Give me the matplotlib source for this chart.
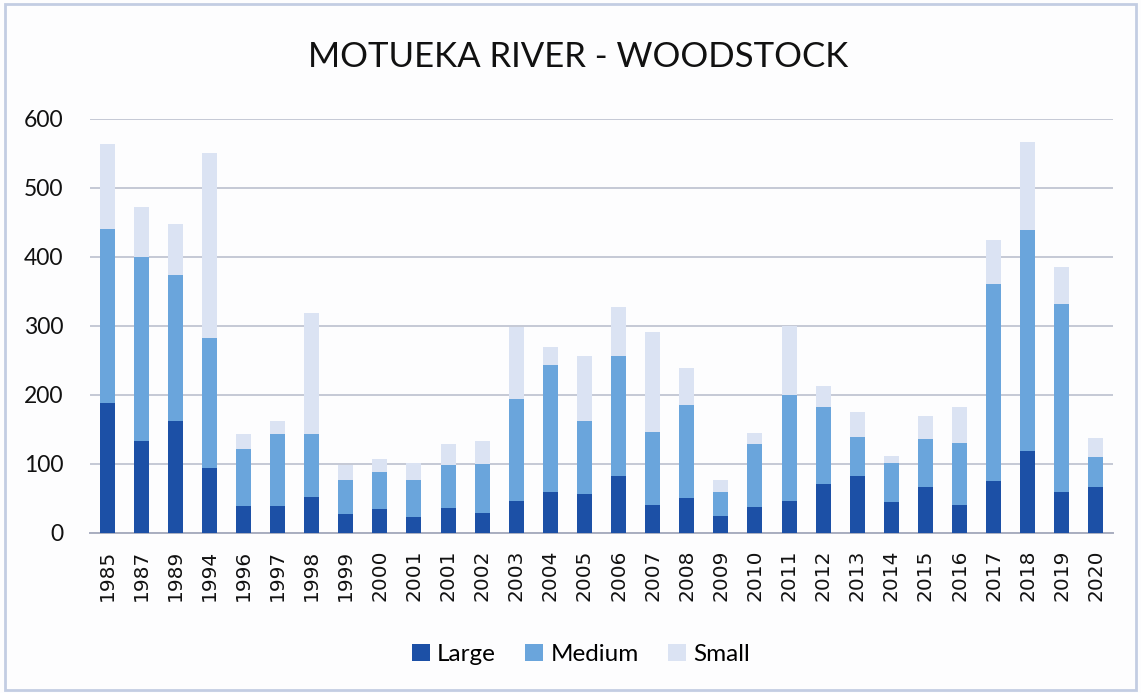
import matplotlib
matplotlib.use("Agg")
import matplotlib.pyplot as plt
import matplotlib.patches as patches
import numpy as np

# --- DONNEES ---
annees = ["1985", "1987", "1989", "1994", "1996", "1997", "1998", "1999", "2000",
          "2001", "2001", "2002", "2003", "2004", "2005", "2006", "2007", "2008",
          "2009", "2010", "2011", "2012", "2013", "2014", "2015", "2016", "2017",
          "2018", "2019", "2020"]
large = [188, 134, 163, 94, 39, 39, 52, 27, 35,
         23, 36, 29, 46, 59, 56, 83, 41, 50,
         24, 38, 47, 71, 83, 45, 66, 41, 76,
         119, 59, 67]
medium = [253, 266, 211, 188, 83, 104, 91, 50, 53,
          54, 63, 71, 148, 184, 107, 173, 105, 135,
          36, 91, 153, 111, 56, 57, 70, 89, 285,
          320, 273, 43]
small = [123, 72, 74, 268, 22, 20, 176, 22, 19,
         24, 30, 34, 104, 27, 94, 71, 145, 54,
         17, 16, 100, 31, 36, 10, 33, 52, 64,
         128, 54, 28]

couleurs = {"Large": "#1c50a6", "Medium": "#6aa5dc", "Small": "#dbe3f3"}

fig = plt.figure(figsize=(11.41, 6.93), dpi=100)
fig.patch.set_facecolor("#fdfdfe")

# cadre du graphique (bord du scan)
fig.add_artist(patches.Rectangle((0.004, 0.004), 0.992, 0.99, transform=fig.transFigure,
                                 fill=False, edgecolor="#c3cde3", linewidth=2))

ax = fig.add_axes([0.0789, 0.2309, 0.8966, 0.5974])
ax.set_facecolor("none")

x = np.arange(len(annees))
large = np.array(large)
medium = np.array(medium)
small = np.array(small)
largeur = 0.44

ax.bar(x, large, largeur, color=couleurs["Large"], label="Large", zorder=3)
ax.bar(x, medium, largeur, bottom=large, color=couleurs["Medium"], label="Medium", zorder=3)
ax.bar(x, small, largeur, bottom=large + medium, color=couleurs["Small"], label="Small", zorder=3)

ax.set_xlim(-0.5, len(annees) - 0.5)
ax.set_ylim(0, 600)
ax.yaxis.grid(True, color="#bcc0ce", linewidth=1.2, zorder=0)
ax.set_axisbelow(True)
for s in ["top", "right", "left"]:
    ax.spines[s].set_visible(False)
ax.spines["bottom"].set_color("#a9aec0")
ax.spines["bottom"].set_linewidth(1.4)

ax.tick_params(axis="both", length=0)
ax.tick_params(axis="y", pad=19)
ax.set_yticks(range(0, 601, 100))
ax.set_yticklabels([str(v) for v in range(0, 601, 100)], fontsize=16.5, family="Lato", color="#111111")
ax.set_xticks(x)
ax.set_xticklabels(annees, rotation=90, fontsize=14.5, family="DejaVu Sans", color="#111111", va="top")
ax.tick_params(axis="x", pad=12)

fig.text(0.507, 0.918, "MOTUEKA RIVER - WOODSTOCK", ha="center", va="center",
         fontsize=25, family="Lato", color="#111111")

leg = ax.legend(loc="center", bbox_to_anchor=(0.48, -0.293), ncol=3, frameon=False,
                prop={"family": "Lato", "size": 17.5}, handlelength=0.75, handleheight=0.75,
                handletextpad=0.3, columnspacing=1.2)

fig.savefig("out.png", dpi=100, facecolor=fig.get_facecolor())
